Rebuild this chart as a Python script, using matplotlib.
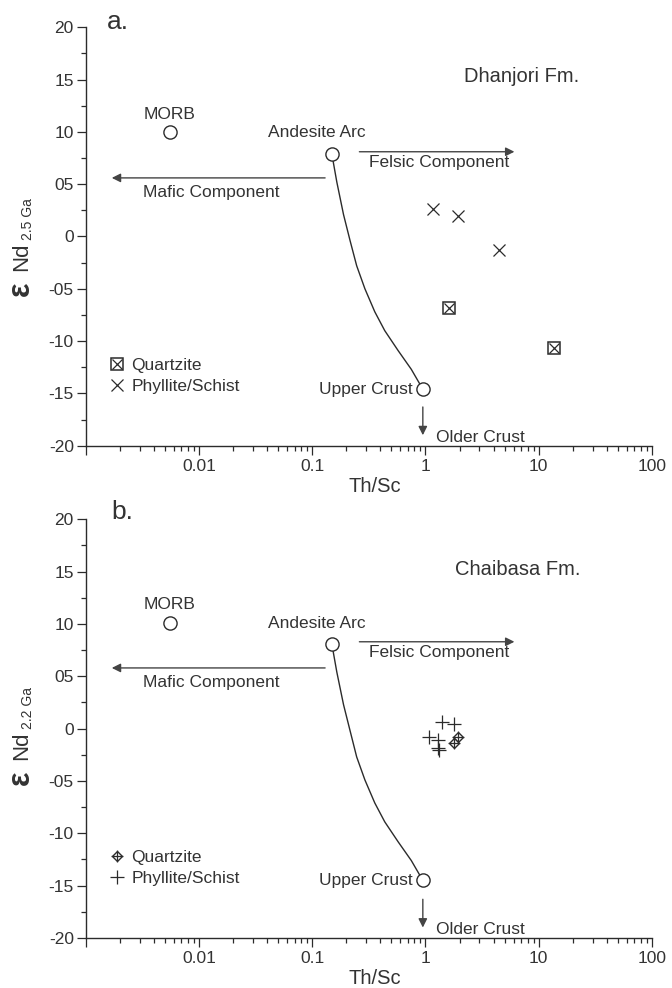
import numpy as np
import matplotlib.pyplot as plt
from matplotlib.ticker import FixedLocator, FixedFormatter, LogLocator, NullFormatter
from matplotlib.legend_handler import HandlerTuple

plt.rcParams['font.family'] = ['Liberation Sans', 'DejaVu Sans']

# reference end-members (Th/Sc, eNd)
ref_names = ['MORB', 'Andesite Arc', 'Upper Crust']
ref_x = [0.0055, 0.149, 0.948]
ref_y_a = [10.0, 7.9, -14.6]
ref_y_b = [10.1, 8.1, -14.5]

# mixing curve Andesite Arc -> Upper Crust
curve_x = [0.149, 0.165, 0.189, 0.216, 0.247, 0.292, 0.357, 0.437, 0.573, 0.750, 0.948]
curve_y_a = [7.9, 5.2, 2.1, -0.4, -2.8, -5.0, -7.2, -9.0, -10.9, -12.7, -14.6]
curve_y_b = [8.1, 5.4, 2.3, -0.2, -2.7, -4.9, -7.1, -8.9, -10.8, -12.6, -14.5]

# a. Dhanjori Fm.
dh_qtz_x = [1.63, 13.6]
dh_qtz_y = [-6.8, -10.7]
dh_phy_x = [1.16, 1.93, 4.45]
dh_phy_y = [2.6, 2.0, -1.3]

# b. Chaibasa Fm.
ch_qtz_x = [1.94, 1.80]
ch_qtz_y = [-0.8, -1.35]
ch_phy_x = [1.41, 1.77, 1.07, 1.30, 1.29, 1.31]
ch_phy_y = [0.65, 0.45, -0.75, -1.1, -1.85, -2.05]

yticks = [20, 15, 10, 5, 0, -5, -10, -15, -20]
ytick_labels = ['20', '15', '10', '05', '0', '-05', '-10', '-15', '-20']

ink = '#2b2b2b'
txt = '#333333'
arrow_c = '#444444'

fig = plt.figure(figsize=(6.72, 9.88), dpi=100)
ax_a = fig.add_axes([0.1275, 0.5489, 0.8427, 0.4235])
ax_b = fig.add_axes([0.1275, 0.0506, 0.8427, 0.4238])


def base_axes(ax):
    ax.set_xscale('log')
    ax.set_xlim(0.001, 100)
    ax.set_ylim(-20, 20)
    for s in ['top', 'right']:
        ax.spines[s].set_visible(False)
    for s in ['left', 'bottom']:
        ax.spines[s].set_color(ink)
        ax.spines[s].set_linewidth(1.0)
    ax.xaxis.set_major_locator(FixedLocator([0.001, 0.01, 0.1, 1, 10, 100]))
    ax.xaxis.set_major_formatter(FixedFormatter(['', '0.01', '0.1', '1', '10', '100']))
    ax.xaxis.set_minor_locator(LogLocator(base=10, subs=np.arange(2, 10)))
    ax.xaxis.set_minor_formatter(NullFormatter())
    ax.yaxis.set_major_locator(FixedLocator(yticks))
    ax.yaxis.set_major_formatter(FixedFormatter(ytick_labels))
    ax.yaxis.set_minor_locator(FixedLocator(np.arange(-17.5, 20, 5)))
    ax.tick_params(which='major', direction='out', length=6.5, width=0.9,
                   color=ink, labelcolor=txt, labelsize=12.5)
    ax.tick_params(which='minor', direction='out', length=3.5, width=0.9, color=ink)
    ax.tick_params(axis='x', which='major', pad=3)
    ax.tick_params(axis='y', which='major', pad=2)
    ax.set_xlabel('Th/Sc', fontsize=14.5, color=txt, va='center')
    ax.xaxis.set_label_coords(0.511, -0.097)


def common_marks(ax, ref_y, curve_y, felsic_y, mafic_y, andesite_lbl_y, morb_lbl_y):
    ax.plot(curve_x, curve_y, color=ink, lw=1.0, zorder=2, solid_joinstyle='round')
    ax.plot(ref_x, ref_y, ls='none', marker='o', ms=9.5, mfc='white', mec=ink,
            mew=1.0, zorder=3)
    ax.text(ref_x[0], morb_lbl_y, ref_names[0], ha='center', va='center',
            fontsize=12.5, color=txt)
    ax.text(0.11, andesite_lbl_y, ref_names[1], ha='center', va='center',
            fontsize=12.5, color=txt)
    ax.text(0.775, ref_y[2], ref_names[2], ha='right', va='center',
            fontsize=12.5, color=txt)
    ap = dict(arrowstyle='-|>', color=arrow_c, lw=1.0, mutation_scale=13,
              shrinkA=0, shrinkB=0)
    ax.annotate('', xy=(6.1, felsic_y), xytext=(0.261, felsic_y), arrowprops=ap)
    ax.text(0.318, felsic_y - 1.05, 'Felsic Component', ha='left', va='center',
            fontsize=12.5, color=txt)
    ax.annotate('', xy=(0.0017, mafic_y), xytext=(0.130, mafic_y), arrowprops=ap)
    ax.text(0.0032, mafic_y - 1.4, 'Mafic Component', ha='left', va='center',
            fontsize=12.5, color=txt)
    ax.annotate('', xy=(0.948, -19.0), xytext=(0.948, -16.3), arrowprops=ap)
    ax.text(1.24, -19.2, 'Older Crust', ha='left', va='center',
            fontsize=12.5, color=txt)


def ylabel(y_center, sub):
    # pieces of the rotated label: epsilon, Nd and subscript
    fig.text(21 / 672, 1 - (y_center + 38) / 988, '\u03b5', rotation=90,
             ha='center', va='center', fontsize=22, fontweight='bold', color=txt)
    fig.text(22 / 672, 1 - (y_center + 6) / 988, 'Nd', rotation=90,
             ha='center', va='center', fontsize=16, color=txt)
    fig.text(28 / 672, 1 - (y_center - 32) / 988, sub, rotation=90,
             ha='center', va='center', fontsize=10, color=txt)


def legend(ax, h_qtz, h_phy):
    ax.legend([h_qtz, h_phy], ['Quartzite', 'Phyllite/Schist'],
              handler_map={tuple: HandlerTuple(ndivide=1, pad=0)},
              loc='upper left', bbox_to_anchor=(0.042, 0.21), frameon=False,
              fontsize=12.5, handlelength=0.9, handletextpad=0.35,
              labelspacing=0.35, borderpad=0, borderaxespad=0, labelcolor=txt)


# ---- panel a
ax = ax_a
base_axes(ax)
common_marks(ax, ref_y_a, curve_y_a, 8.1, 5.6, 9.9, 11.7)
q1, = ax.plot(dh_qtz_x, dh_qtz_y, ls='none', marker='s', ms=8, mfc='white',
              mec=ink, mew=1.1, zorder=3)
q2, = ax.plot(dh_qtz_x, dh_qtz_y, ls='none', marker='x', ms=7, mec=ink,
              mew=0.9, zorder=4)
p1, = ax.plot(dh_phy_x, dh_phy_y, ls='none', marker='x', ms=9, mec=ink,
              mew=0.9, zorder=3)
legend(ax, (q1, q2), p1)
ax.text(7.0, 15.3, 'Dhanjori Fm.', ha='center', va='center', fontsize=14.5,
        color=txt)
ax.text(0.00155, 20.55, 'a.', ha='left', va='center', fontsize=19, color=txt)
ylabel(251, '2.5 Ga')

# ---- panel b
ax = ax_b
base_axes(ax)
common_marks(ax, ref_y_b, curve_y_b, 8.3, 5.8, 10.05, 11.9)
d1, = ax.plot(ch_qtz_x, ch_qtz_y, ls='none', marker='D', ms=5, mfc='white',
              mec=ink, mew=1.0, zorder=3)
d2, = ax.plot(ch_qtz_x, ch_qtz_y, ls='none', marker='+', ms=8.5, mec=ink,
              mew=0.9, zorder=4)
p2, = ax.plot(ch_phy_x, ch_phy_y, ls='none', marker='+', ms=10, mec=ink,
              mew=0.9, zorder=3)
legend(ax, (d1, d2), p2)
ax.text(6.5, 15.2, 'Chaibasa Fm.', ha='center', va='center', fontsize=14.5,
        color=txt)
ax.text(0.0017, 20.7, 'b.', ha='left', va='center', fontsize=19, color=txt)
ylabel(740, '2.2 Ga')

fig.savefig('out.png', dpi=100)
